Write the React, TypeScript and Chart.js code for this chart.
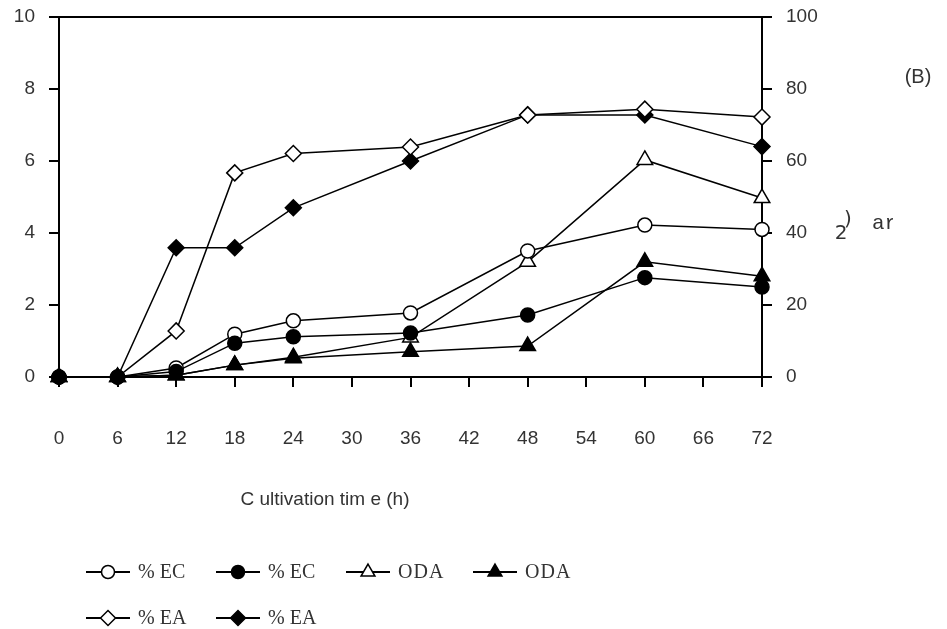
import React, { useEffect, useRef } from "react";
import { Chart, registerables } from "chart.js";
import { drawPoint } from "chart.js/helpers";

Chart.register(...registerables);

// ---- data ----
const hours = [0, 6, 12, 18, 24, 36, 48, 60, 72];
const ecOpen = [0, 0, 0.25, 1.19, 1.56, 1.78, 3.5, 4.22, 4.1];
const ecFilled = [0, 0, 0.15, 0.94, 1.12, 1.22, 1.72, 2.76, 2.5];
const odaOpen = [0, 0, 0.05, 0.33, 0.55, 1.1, 3.2, 6.03, 4.97];
const odaFilled = [0, 0, 0.05, 0.33, 0.52, 0.7, 0.86, 3.2, 2.8];
const eaOpen = [0, 0, 1.28, 5.67, 6.21, 6.39, 7.28, 7.44, 7.22];
const eaFilled = [0, 0, 3.59, 3.59, 4.7, 6.0, 7.28, 7.28, 6.4];
const seriesLabels = ["% EC", "% EC", "ODA", "ODA", "% EA", "% EA"];
const xTitle = "C ultivation tim e (h)";
const panelLabel = "(B)";
const strayTexts = [")", "2", "ar"];
const xRange = [0, 72, 6];
const leftRange = [0, 10, 2];
const rightRange = [0, 100, 20];

const series = [
  { data: ecOpen, style: "circle", filled: false, r: 7, order: 2 },
  { data: ecFilled, style: "circle", filled: true, r: 7, order: 0 },
  { data: odaOpen, style: "triangle", filled: false, r: 9, order: 3 },
  { data: odaFilled, style: "triangle", filled: true, r: 9, order: 1 },
  { data: eaOpen, style: "rectRot", filled: false, r: 8, order: 4 },
  { data: eaFilled, style: "rectRot", filled: true, r: 8, order: 5 },
];

const TICK_COLOR = "#333";

const extrasPlugin = {
  id: "extras",
  afterDraw(chart: any) {
    const ctx = chart.ctx as CanvasRenderingContext2D;
    const ca = chart.chartArea;
    ctx.save();
    // top frame line
    ctx.strokeStyle = "#000";
    ctx.lineWidth = 2;
    ctx.beginPath();
    ctx.moveTo(ca.left - 1, ca.top);
    ctx.lineTo(ca.right + 1, ca.top);
    ctx.stroke();

    // x title
    ctx.fillStyle = TICK_COLOR;
    ctx.font = '19px "Liberation Sans", sans-serif';
    ctx.textAlign = "center";
    ctx.textBaseline = "middle";
    ctx.fillText(xTitle, 325, 500);

    // panel label
    ctx.font = '20px "Liberation Sans", sans-serif';
    ctx.fillText(panelLabel, 918, 77);

    // stray text fragments
    ctx.font = '20px "DejaVu Sans", sans-serif';
    ctx.fillText(strayTexts[0], 848, 220);
    ctx.fillText(strayTexts[1], 841, 234);
    ctx.save();
    ctx.beginPath();
    ctx.rect(860, 200, 33, 40);
    ctx.clip();
    ctx.textAlign = "left";
    ctx.font = '21px "Liberation Mono", monospace';
    ctx.fillText(strayTexts[2], 872, 223);
    ctx.restore();

    // legend
    const starts = [86, 216, 346, 473];
    const rows = [572, 618];
    chart.data.datasets.forEach((ds: any, i: number) => {
      const row = i < 4 ? 0 : 1;
      const col = i < 4 ? i : i - 4;
      const x0 = starts[col];
      const y = rows[row];
      ctx.strokeStyle = "#000";
      ctx.lineWidth = 2;
      ctx.beginPath();
      ctx.moveTo(x0, y);
      ctx.lineTo(x0 + 44, y);
      ctx.stroke();
      ctx.fillStyle = ds.pointBackgroundColor;
      ctx.strokeStyle = "#000";
      ctx.lineWidth = 1.5;
      drawPoint(
        ctx,
        {
          pointStyle: ds.pointStyle,
          radius: ds.pointStyle === "triangle" ? 8 : ds.pointStyle === "rectRot" ? 7.5 : 6.5,
          rotation: 0,
          borderWidth: 1.5,
        } as any,
        x0 + 22,
        y
      );
      ctx.fillStyle = TICK_COLOR;
      ctx.font = '20px "Liberation Serif", serif';
      (ctx as any).letterSpacing = ds.label === "ODA" ? "1px" : "0px";
      ctx.textAlign = "left";
      ctx.textBaseline = "middle";
      ctx.fillText(ds.label, x0 + 52, y + 1);
      (ctx as any).letterSpacing = "0px";
    });
    ctx.restore();
  },
};

const zeroPad = (s: any) => {
  s.paddingTop = 0;
  s.paddingBottom = 0;
  s.paddingLeft = 0;
  s.paddingRight = 0;
};

export default function App() {
  const ref = useRef<HTMLCanvasElement | null>(null);
  useEffect(() => {
    if (!ref.current) return;
    const chart = new Chart(ref.current, {
      type: "line",
      data: {
        datasets: series.map((s, i) => ({
          label: seriesLabels[i],
          data: hours.map((h, j) => ({ x: h, y: s.data[j] })),
          borderColor: "#000",
          borderWidth: 1.5,
          pointStyle: s.style as any,
          pointRadius: s.r,
          pointBorderWidth: 1.5,
          pointBorderColor: "#000",
          pointBackgroundColor: s.filled ? "#000" : "#fff",
          tension: 0,
          clip: false as any,
          order: s.order,
          xAxisID: "x",
          yAxisID: "y",
        })),
      },
      options: {
        responsive: false,
        animation: false,
        devicePixelRatio: 1,
        layout: { padding: { top: 17, left: 0, right: 0, bottom: 0 } },
        plugins: { legend: { display: false }, tooltip: { enabled: false } },
        scales: {
          x: {
            type: "linear",
            min: xRange[0],
            max: xRange[1],
            afterFit: (s: any) => {
              s.height = 252;
              zeroPad(s);
            },
            ticks: {
              stepSize: xRange[2],
              color: TICK_COLOR,
              padding: 40,
              font: { family: '"Liberation Sans", sans-serif', size: 19 },
              maxRotation: 0,
            },
            grid: {
              drawOnChartArea: false,
              drawTicks: true,
              tickLength: 10,
              color: "#000",
              lineWidth: 2,
            },
            border: { display: true, color: "#000", width: 2 },
          },
          y: {
            position: "left",
            min: leftRange[0],
            max: leftRange[1],
            afterFit: (s: any) => {
              s.width = 59;
              zeroPad(s);
            },
            ticks: {
              stepSize: leftRange[2],
              color: TICK_COLOR,
              padding: 14,
              font: { family: '"Liberation Sans", sans-serif', size: 19 },
            },
            grid: {
              drawOnChartArea: false,
              drawTicks: true,
              tickLength: 10,
              color: "#000",
              lineWidth: 2,
            },
            border: { display: true, color: "#000", width: 2 },
          },
          y1: {
            position: "right",
            min: rightRange[0],
            max: rightRange[1],
            afterFit: (s: any) => {
              s.width = 185;
              zeroPad(s);
            },
            ticks: {
              stepSize: rightRange[2],
              color: TICK_COLOR,
              padding: 14,
              font: { family: '"Liberation Sans", sans-serif', size: 19 },
            },
            grid: {
              drawOnChartArea: false,
              drawTicks: true,
              tickLength: 10,
              color: "#000",
              lineWidth: 2,
            },
            border: { display: true, color: "#000", width: 2 },
          },
        },
      },
      plugins: [extrasPlugin],
    });
    return () => chart.destroy();
  }, []);
  return (
    <div style={{ position: "absolute", left: 0, top: 0, width: 947, height: 629, background: "#fff" }}>
      <canvas ref={ref} width={947} height={629} style={{ display: "block" }} />
    </div>
  );
}
